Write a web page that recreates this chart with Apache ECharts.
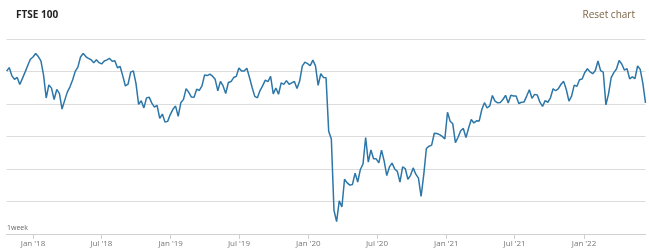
<!DOCTYPE html>
<html>
<head>
<meta charset="utf-8">
<script src="https://cdn.jsdelivr.net/npm/echarts@6/dist/echarts.min.js"></script>
<style>
  html, body { margin: 0; padding: 0; background: #fff; }
  #chart { width: 649px; height: 252px; }
</style>
</head>
<body>
<div id="chart"></div>
<script>
// Weekly closes (week starting Monday)
const firstWeek = [2017, 9, 23]; // Monday 23 Oct 2017
const values2017 = [7505, 7560, 7433, 7380, 7409, 7300, 7394, 7490, 7592, 7688];
const values2018 = [7724, 7778, 7730, 7665, 7443, 7092, 7294, 7244, 7069, 7224, 7164, 6922, 7056,
  7183, 7264, 7368, 7502, 7567, 7724, 7779, 7730, 7701, 7681, 7633, 7682, 7636,
  7617, 7661, 7678, 7701, 7659, 7667, 7558, 7577, 7432, 7277, 7304, 7490, 7510,
  7318, 6995, 7049, 6940, 7094, 7105, 7014, 6952, 6980, 6778, 6845, 6721, 6733, 6837];
const values2019 = [6918, 6968, 6809, 7020, 7071, 7237, 7178, 7107, 7104, 7228, 7208, 7279,
  7447, 7437, 7459, 7428, 7380, 7203, 7348, 7277, 7162, 7331, 7345, 7407, 7426,
  7553, 7506, 7508, 7549, 7407, 7254, 7117, 7095, 7207, 7282, 7367, 7345, 7426, 7155,
  7247, 7150, 7324, 7302, 7359, 7303, 7326, 7346, 7239, 7353, 7582, 7644, 7622];
const values2020 = [7588, 7675, 7586, 7286, 7466, 7409, 7404, 6581, 6463, 5366, 5191, 5510, 5416,
  5843, 5787, 5752, 5763, 5936, 5800, 5993, 6077, 6484, 6105, 6293, 6159, 6157,
  6095, 6290, 6124, 5898, 6032, 6090, 6001, 5963, 5799, 6032, 6007, 5842, 5902,
  6017, 5920, 5860, 5577, 5910, 6316, 6351, 6367, 6550, 6547, 6529, 6502, 6461];
const values2021 = [6873, 6736, 6695, 6407, 6489, 6589, 6624, 6483, 6631, 6761, 6709, 6741, 6737,
  6916, 7020, 6938, 6970, 7130, 7044, 7018, 7023, 7069, 7134, 7017, 7136, 7123,
  7122, 7008, 7027, 7032, 7122, 7218, 7087, 7148, 7138, 7029, 6963, 7051, 7027,
  7095, 7234, 7204, 7237, 7304, 7348, 7223, 7044, 7122, 7291, 7270, 7372, 7385];
const values2022 = [7485, 7543, 7494, 7466, 7516, 7661, 7513, 7489, 6987, 7156, 7405, 7483, 7538,
  7669, 7616, 7522, 7545, 7388, 7418, 7390, 7585, 7533, 7318, 7016];

const tickDates = ['2018-01-01', '2018-07-01', '2019-01-01', '2019-07-01', '2020-01-01',
  '2020-07-01', '2021-01-01', '2021-07-01', '2022-01-01'];
const tickLabels = ["Jan '18", "Jul '18", "Jan '19", "Jul '19", "Jan '20",
  "Jul '20", "Jan '21", "Jul '21", "Jan '22"];

const allValues = [].concat(values2017, values2018, values2019, values2020, values2021, values2022);
const DAY = 86400000;
const start = Date.UTC(firstWeek[0], firstWeek[1], firstWeek[2]);
const seriesData = allValues.map((v, i) => [start + i * 7 * DAY, v]);
const tickTimes = tickDates.map(d => Date.parse(d + 'T00:00:00Z'));

const chart = echarts.init(document.getElementById('chart'), null, { renderer: 'canvas' });
chart.setOption({
  animation: false,
  backgroundColor: '#fff',
  title: {
    text: 'FTSE 100',
    left: 16, top: 10, padding: 0,
    textStyle: { fontFamily: 'Open Sans', fontSize: 10, fontWeight: 'bold', color: '#222' }
  },
  graphic: [
    { type: 'text', right: 14, top: 10,
      style: { text: 'Reset chart', fill: '#7a6446', font: '10px "Open Sans"' } },
    { type: 'text', left: 7, top: 224,
      style: { text: '1week', fill: '#666', font: '7px "Open Sans"' } }
  ],
  grid: { left: 6.6, right: 3.5, top: 39, height: 195, containLabel: false },
  xAxis: {
    type: 'value',
    min: seriesData[0][0],
    max: seriesData[seriesData.length - 1][0],
    axisLine: { show: true, lineStyle: { color: '#d0d0d0', width: 1 } },
    axisTick: { show: true, customValues: tickTimes, length: 5, lineStyle: { color: '#d0d0d0' } },
    axisLabel: {
      customValues: tickTimes,
      fontFamily: 'Open Sans', fontSize: 8, color: '#777', margin: 6,
      formatter: function (val) {
        const idx = tickTimes.indexOf(val);
        return idx >= 0 ? tickLabels[idx] : '';
      }
    },
    splitLine: { show: false }
  },
  yAxis: {
    type: 'value',
    min: 5000, max: 8000, interval: 500,
    axisLabel: { show: false },
    axisLine: { show: false },
    axisTick: { show: false },
    splitLine: { show: true, lineStyle: { color: '#dcdcdc', width: 1 } }
  },
  series: [{
    type: 'line',
    data: seriesData,
    showSymbol: false,
    lineStyle: { color: '#2c76a8', width: 1.5 },
    itemStyle: { color: '#2c76a8' }
  }]
});
</script>
</body>
</html>
